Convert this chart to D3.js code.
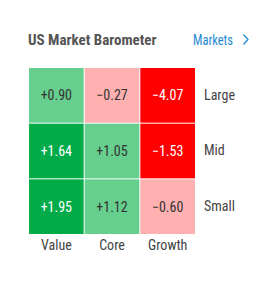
<!DOCTYPE html>
<html>
<head>
<meta charset="utf-8">
<script src="https://cdn.jsdelivr.net/npm/d3@7"></script>
<style>
  body { margin: 0; background: #fff; }
  text { font-family: "Liberation Sans Narrow", "Roboto Condensed", "DejaVu Sans Condensed", sans-serif; }
</style>
</head>
<body>
<div id="chart"></div>
<script>
const width = 273;
const height = 284;

const styles = ["Value", "Core", "Growth"];
const sizes = ["Large", "Mid", "Small"];
// rows: Large, Mid, Small
const largeVals = [0.90, -0.27, -4.07];
const midVals = [1.64, 1.05, -1.53];
const smallVals = [1.95, 1.12, -0.60];

const cells = [];
[largeVals, midVals, smallVals].forEach((row, i) => {
  row.forEach((v, j) => cells.push({ size: sizes[i], style: styles[j], value: v }));
});

const x = d3.scaleBand().domain(styles).range([29, 195]).paddingInner(0.018);
const y = d3.scaleBand().domain(sizes).range([68, 234]).paddingInner(0.018);

const fill = d3.scaleThreshold()
  .domain([-1.5, 0, 1.5])
  .range(["#ff0000", "#ffb0b0", "#66cf8e", "#00ab48"]);
const textColor = v => (Math.abs(v) >= 1.5 ? "#ffffff" : "#333333");
const fmt = v => (v > 0 ? "+" : "\u2212") + Math.abs(v).toFixed(2);

const svg = d3.select("#chart")
  .append("svg")
  .attr("width", width)
  .attr("height", height);

svg.append("text")
  .attr("x", 28)
  .attr("y", 45)
  .attr("fill", "#555")
  .attr("font-size", 15)
  .attr("font-weight", "bold")
  .text("US Market Barometer");

svg.append("text")
  .attr("x", 193)
  .attr("y", 45)
  .attr("fill", "#1f8ad2")
  .attr("font-size", 15)
  .attr("textLength", 40)
  .attr("lengthAdjust", "spacingAndGlyphs")
  .text("Markets");

svg.append("path")
  .attr("d", "M243.5,34.5 L248,39.5 L243.5,44.5")
  .attr("fill", "none")
  .attr("stroke", "#1f8ad2")
  .attr("stroke-width", 1.3);

const g = svg.append("g");

g.selectAll("rect")
  .data(cells)
  .enter()
  .append("rect")
  .attr("x", d => x(d.style))
  .attr("y", d => y(d.size))
  .attr("width", x.bandwidth())
  .attr("height", y.bandwidth())
  .attr("fill", d => fill(d.value));

g.selectAll("text.val")
  .data(cells)
  .enter()
  .append("text")
  .attr("class", "val")
  .attr("x", d => x(d.style) + x.bandwidth() / 2)
  .attr("y", d => y(d.size) + y.bandwidth() / 2 + 5)
  .attr("text-anchor", "middle")
  .attr("font-size", 14)
  .attr("fill", d => textColor(d.value))
  .text(d => fmt(d.value));

svg.append("g")
  .attr("transform", "translate(0,234)")
  .call(d3.axisBottom(x).tickSize(0).tickPadding(6))
  .call(a => a.select(".domain").remove())
  .selectAll("text")
  .attr("font-size", 14)
  .attr("fill", "#444")
  .attr("font-family", null);

svg.append("g")
  .attr("transform", "translate(195,0)")
  .call(d3.axisRight(y).tickSize(0).tickPadding(9))
  .call(a => a.select(".domain").remove())
  .selectAll("text")
  .attr("font-size", 14)
  .attr("fill", "#444")
  .attr("font-family", null);
</script>
</body>
</html>
